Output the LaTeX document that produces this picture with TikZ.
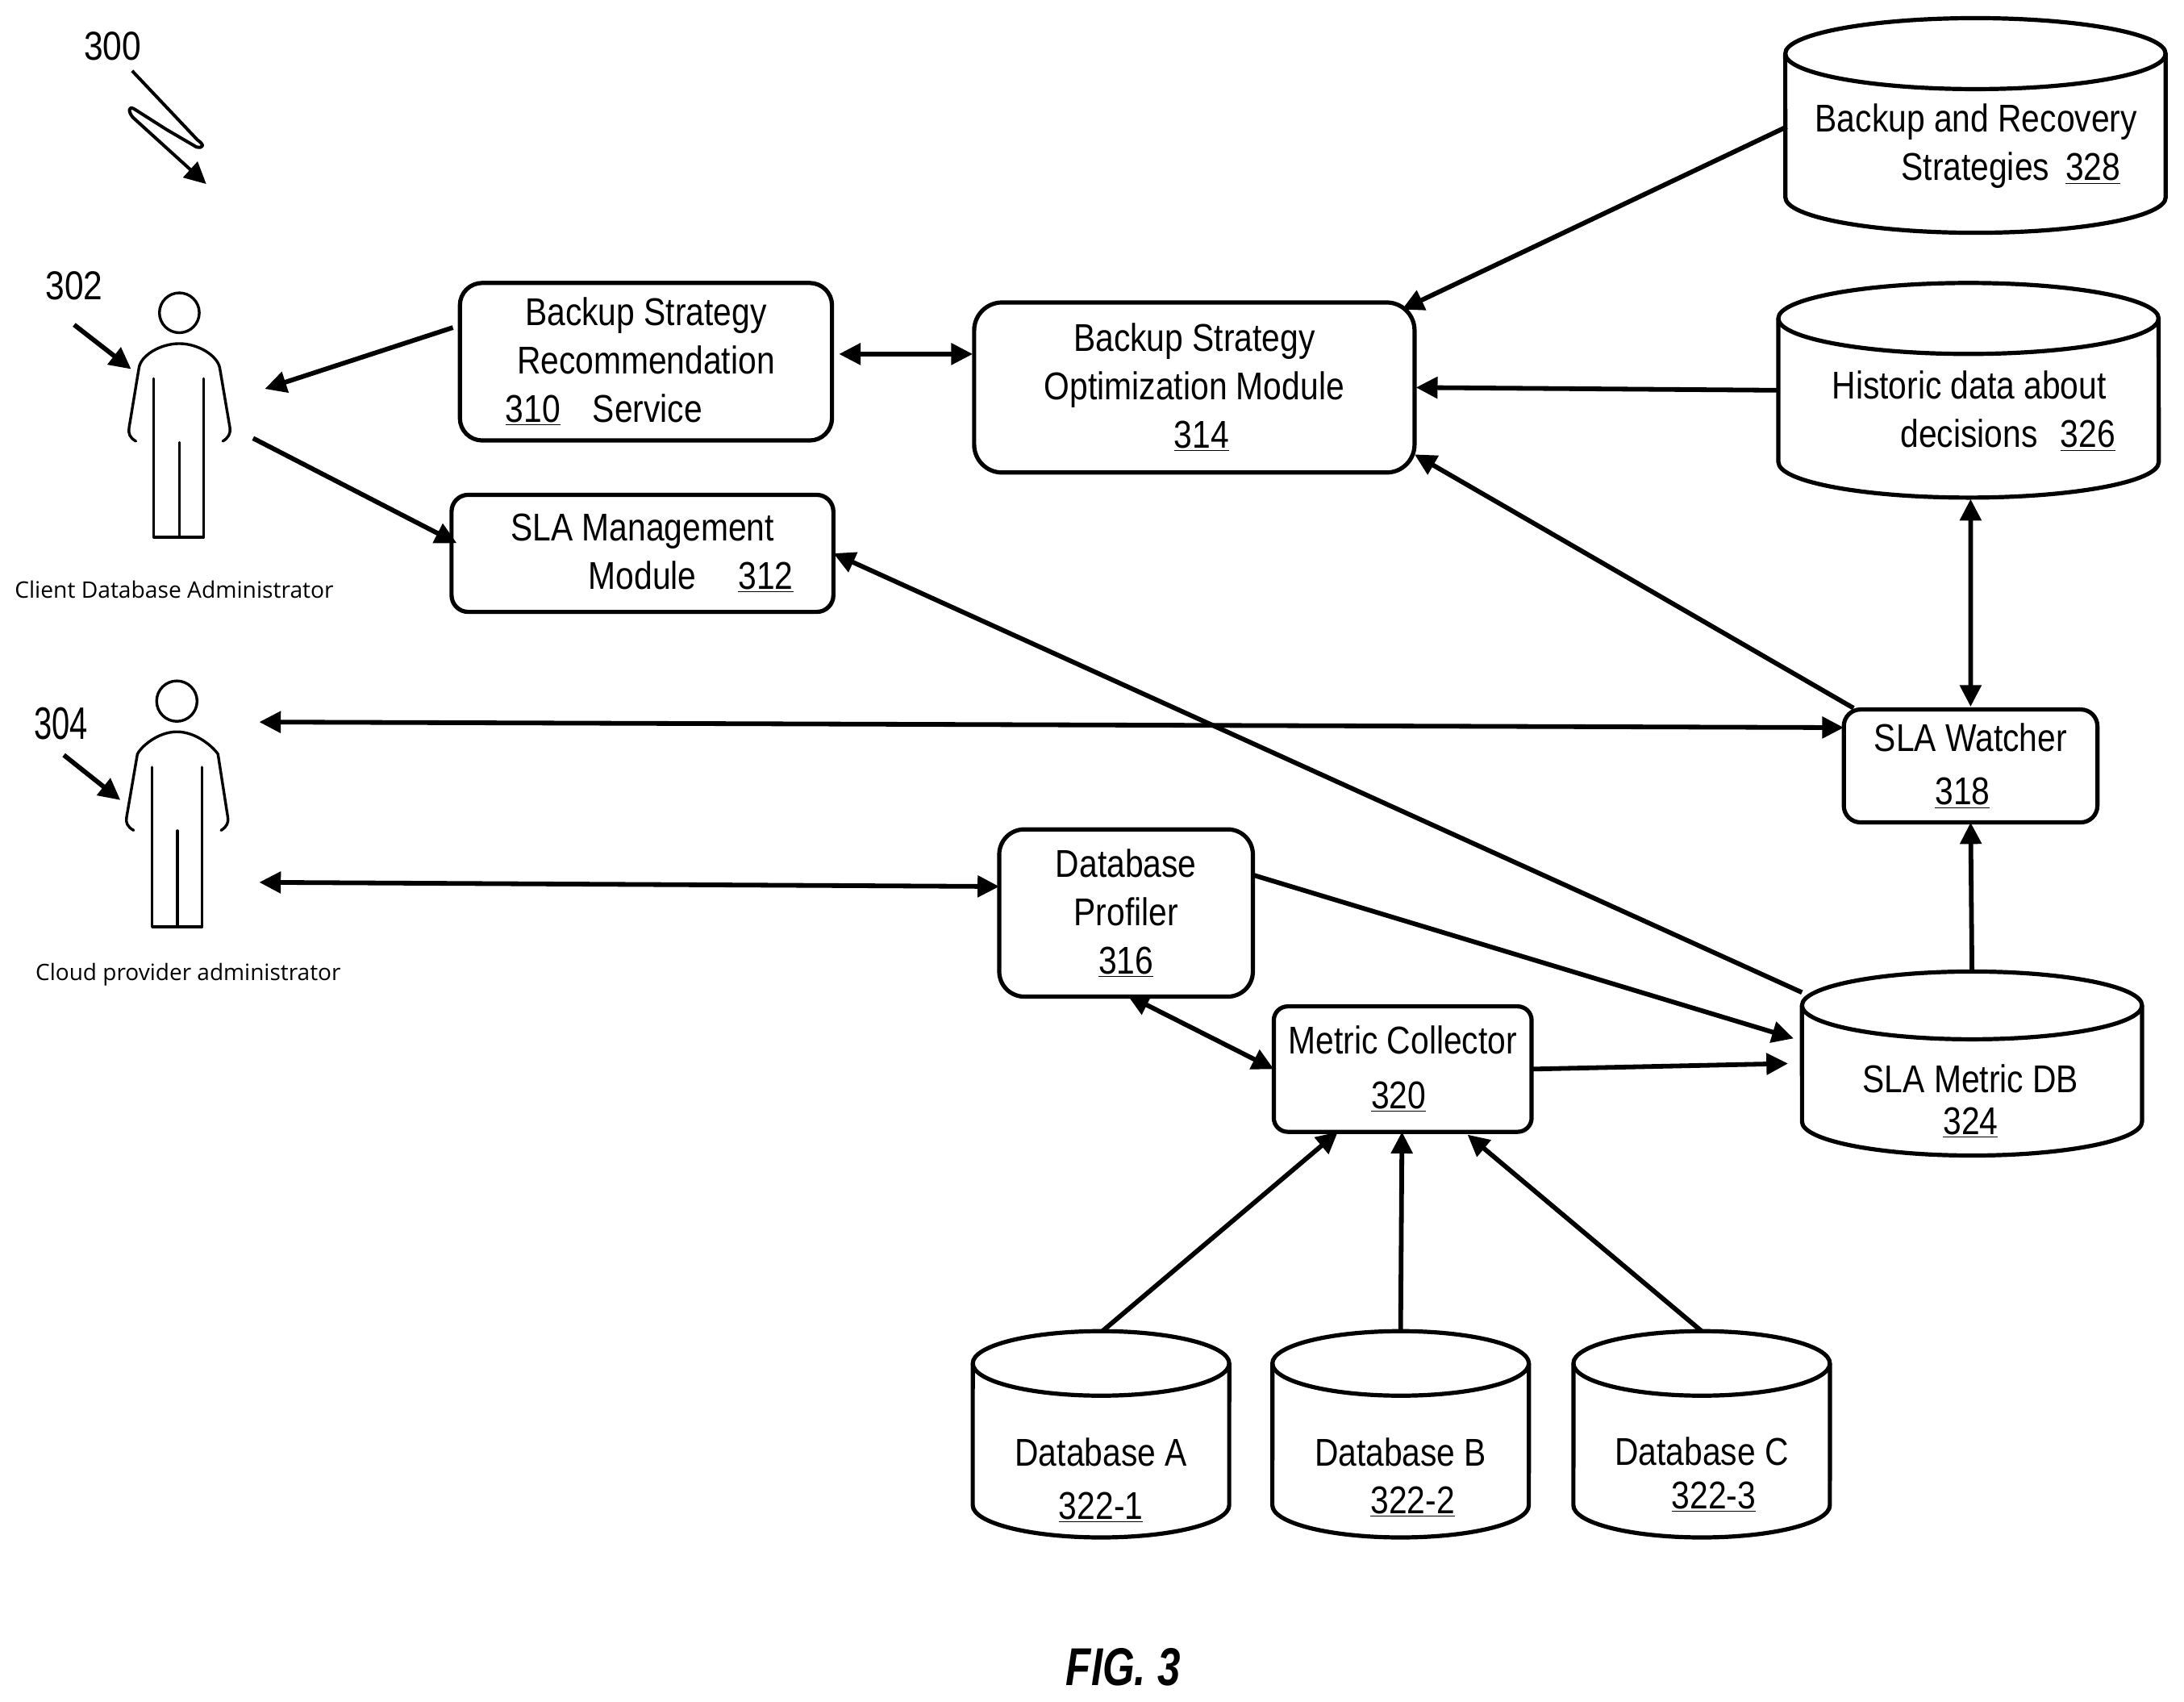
\documentclass[tikz,border=0pt]{standalone}
\usepackage{fontspec}
\setmainfont{Liberation Sans}[FakeStretch=0.85]
\newfontfamily\lblfont{Open Sans}
\usetikzlibrary{arrows.meta}
\tikzset{
  ink/.style={line width=2.6pt,draw=black},
  dim/.style 2 args={minimum width=#1*0.864pt,minimum height=#2*0.864pt},
  mainfontsty/.style={font=\fontsize{24}{30}\selectfont,align=center},
  boxnode/.style={rectangle,ink,rounded corners=#1*0.864pt,inner sep=0pt,outer sep=0pt,mainfontsty},
  boxnode/.default=16,
  dbnode/.style={rectangle,draw=none,inner sep=0pt,outer sep=0pt},
  labeltext/.style={inner sep=0pt,outer sep=0pt,mainfontsty},
  conn/.style={line width=2.9pt,line cap=butt},
  tip/.style={-{Triangle[length=13.4pt,width=13pt]}},
  dtip/.style={{Triangle[length=13.4pt,width=13pt]}-{Triangle[length=13.4pt,width=13pt]}},
  person/.style={line width=1.7pt,line cap=round,line join=round},
  headnode/.style={circle,line width=1.7pt,draw=black,minimum size=28.6*0.864pt,inner sep=0pt,outer sep=0pt},
  refnum/.style={inner sep=0pt,outer sep=0pt},
}
% cylinder outline on a named node: name, x radius (pt), y radius (pt)
\newcommand{\cyloutline}[3]{%
  \draw[ink] ([yshift=-#3pt]#1.north west)
     arc[start angle=180,end angle=0,x radius=#2pt,y radius=#3pt]
     -- ([yshift=#3pt]#1.south east)
     arc[start angle=0,end angle=-180,x radius=#2pt,y radius=#3pt] -- cycle;
  \draw[ink] ([yshift=-#3pt]#1.north west)
     arc[start angle=180,end angle=360,x radius=#2pt,y radius=#3pt];
}
\begin{document}
\begin{tikzpicture}[x=0.864pt,y=-0.864pt]
\useasboundingbox (0,0) rectangle (1567.13,1220.5);

% boxes
\node[boxnode,dim={267}{113}] (b310) at (463.5,259.5) {Backup Strategy\\Recommendation\\\underline{310}\hspace{20pt}Service\hspace*{52pt}};
\node[boxnode=12,dim={274}{84}] (b312) at (461,397) {SLA Management\\\hspace*{60pt}Module\hspace{26pt}\underline{312}};
\node[boxnode=20,dim={316}{122}] (b314) at (857,278) {Backup Strategy\\Optimization Module\\\hspace*{9pt}\underline{314}};
\node[boxnode=18,dim={182}{120}] (b316) at (808,655) {Database\\Profiler\\\underline{316}};
\node[boxnode=12,dim={182}{81}] (b318) at (1414,549.5) {SLA Watcher\\[3pt]\underline{318}\hspace*{10pt}};
\node[boxnode=10,dim={185}{90}] (b320) at (1006.5,767) {Metric Collector\\[4pt]\underline{320}\hspace*{5pt}};

% cylinders
\node[dbnode,dim={273}{154}] (c328) at (1417.5,90) {};
\node[dbnode,dim={273}{154}] (c326) at (1412.5,280) {};
\node[dbnode,dim={244}{132}] (c324) at (1415,763) {};
\node[dbnode,dim={184}{148}] (cA) at (790,1029) {};
\node[dbnode,dim={184}{148}] (cB) at (1005,1029) {};
\node[dbnode,dim={184}{148}] (cC) at (1221,1029) {};
\cyloutline{c328}{117.9}{22}
\cyloutline{c326}{117.9}{22}
\cyloutline{c324}{105.4}{21}
\cyloutline{cA}{79.5}{20}
\cyloutline{cB}{79.5}{20}
\cyloutline{cC}{79.5}{20}

% cylinder texts
\node[labeltext] (t328) at (1418,105) {Backup and Recovery\\\hspace*{43pt}Strategies\hspace{10pt}\underline{328}};
\node[labeltext] (t326) at (1413,295) {Historic data about\\\hspace*{48pt}decisions\hspace{14pt}\underline{326}};
\node[labeltext,font=\fontsize{24}{26}\selectfont] (t324) at (1414,790) {SLA Metric DB\\\underline{324}};
\node[labeltext,font=\fontsize{24}{33}\selectfont] (tA) at (790,1062) {Database A\\\underline{322-1}};
\node[labeltext,font=\fontsize{24}{29.5}\selectfont] (tB) at (1005,1060) {Database B\\\hspace*{15pt}\underline{322-2}};
\node[labeltext,font=\fontsize{24}{27}\selectfont] (tC) at (1221,1058) {Database C\\\hspace*{15pt}\underline{322-3}};

% people
\node[headnode] (h302) at (128.7,224.4) {};
\draw[person] (97.5,316.5) .. controls (93,314) and (92,311) .. (92.6,307) -- (99.7,264) .. controls (101,255) and (115,246.5) .. (128.7,246.5) .. controls (142,246.5) and (156,255) .. (157.7,264) -- (165,307) .. controls (165.5,311) and (164,314) .. (159.9,316.5);
\draw[person] (110.3,271.6) -- (110.3,385.3) -- (146.2,385.3) -- (146.2,271.6);
\draw[person] (128.7,317.4) -- (128.7,385.3);

\node[headnode,minimum height=29*0.864pt] (h304) at (126.9,503) {};
\draw[person] (95.9,595.7) .. controls (91,593) and (90.3,590) .. (90.8,586.5) -- (98.6,541) .. controls (101,536) and (113,525) .. (126.9,525) .. controls (141,525) and (153,536) .. (156.4,541) -- (163.5,586.5) .. controls (164,590) and (163,593) .. (158.6,595.7);
\draw[person] (109.2,550.4) -- (109.2,665) -- (145.1,665) -- (145.1,550.4);
\draw[person] (127.4,596) -- (127.4,665);

\node[refnum] (n300) at (80.8,33) {\fontsize{25}{28}\selectfont 300};
\node[refnum] (n302) at (53.2,205) {\fontsize{25}{28}\selectfont 302};
\node[refnum] (n304) at (43.9,519.3) {\scalebox{1}[1.2]{\fontsize{23.5}{26}\selectfont 304}};
\node[refnum] (l302) at (125,423) {\lblfont\fontsize{14.1}{17}\selectfont Client Database Administrator};
\node[refnum] (l304) at (135,699) {\lblfont\fontsize{14}{17}\selectfont Cloud provider administrator};
\node[refnum] (fig) at (806,1196) {\scalebox{0.91}[1]{\fontsize{33}{38}\selectfont\bfseries\itshape FIG. 3}};

% free ends
\coordinate (p302in) at (190,279);
\coordinate (p302out) at (181.6,314.4);
\coordinate (p304a) at (186,518);
\coordinate (p304b) at (186,633);
\coordinate (s300a) at (94.8,50.8);
\coordinate (s300b) at (148,132);
\coordinate (s302a) at (53.2,233);
\coordinate (s302b) at (94.1,264.8);
\coordinate (s304a) at (45.8,541.7);
\coordinate (s304b) at (86.4,574);

% connectors
\draw[conn,tip] ([shift={(-138.5,-24.5)}]b310.center) -- (p302in);
\draw[conn,tip] (p302out) -- ([shift={(-133.2,-7.3)}]b312.center);
\draw[conn,dtip] ([shift={(138.5,-5.5)}]b310.center) -- ([shift={(-159,-24)}]b314.center);
\draw[conn,tip] ([shift={(-135.5,1)}]c328.center) -- ([shift={(149,-56)}]b314.center);
\draw[conn,tip] ([shift={(-135.5,0)}]c326.center) -- ([shift={(159,0)}]b314.center);
\draw[conn,tip] ([shift={(-84,-41.5)}]b318.center) -- ([shift={(158,48)}]b314.center);
\draw[conn,dtip] ([shift={(0,-42.5)}]b318.center) -- ([shift={(1.5,78)}]c326.center);
\draw[conn,tip] ([shift={(0,-66)}]c324.center) -- ([shift={(0,40.5)}]b318.center);
\draw[conn,tip] ([shift={(-122,-51)}]c324.center) -- ([shift={(137,0)}]b312.center);
\draw[conn,tip] ([shift={(92,-27)}]b316.center) -- ([shift={(-128,-18)}]c324.center);
\draw[conn,tip] ([shift={(92.5,0)}]b320.center) -- ([shift={(-132,0)}]c324.center);
\draw[conn,dtip] ([shift={(1,59)}]b316.center) -- ([shift={(-92.5,0)}]b320.center);
\draw[conn,dtip] (p304a) -- ([shift={(-91,-27.5)}]b318.center);
\draw[conn,dtip] (p304b) -- ([shift={(-91,-19)}]b316.center);
\draw[conn,tip] ([shift={(1,-74)}]cA.center) -- ([shift={(-46.5,45)}]b320.center);
\draw[conn,tip] ([shift={(0,-74)}]cB.center) -- ([shift={(-0.5,45)}]b320.center);
\draw[conn,tip] ([shift={(0,-74)}]cC.center) -- ([shift={(46.5,47)}]b320.center);

% reference pointers
\draw[conn,tip,line width=2pt,line join=round] (s300a) -- (141.7,100.4) .. controls (147,104) and (146,106.5) .. (141,105.5) -- (119.6,93) -- (96,78) .. controls (92,76) and (92,80) .. (95.2,84.1) -- (s300b);
\draw[conn,tip] (s302a) -- (s302b);
\draw[conn,tip] (s304a) -- (s304b);
\end{tikzpicture}
\end{document}
